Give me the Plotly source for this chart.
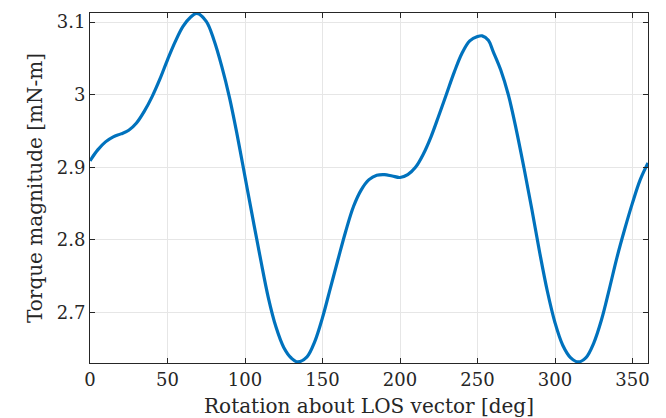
import plotly.graph_objects as go

# Rotation angle about the line-of-sight vector [deg]
rotation_deg = [0, 5, 10, 15, 20, 25, 30, 35, 40, 45, 50, 55, 60, 65, 69, 75,
                80, 85, 90, 95, 100, 105, 110, 115, 120, 125, 130, 134, 140,
                145, 150, 155, 160, 165, 170, 175, 180, 185, 190, 195, 200,
                205, 210, 215, 220, 225, 230, 235, 240, 245, 250, 253, 257,
                260, 265, 270, 275, 280, 285, 290, 295, 300, 305, 310, 315,
                320, 325, 330, 335, 340, 345, 350, 355, 360]

# Torque magnitude [mN-m]
torque_mNm = [2.909, 2.924, 2.935, 2.942, 2.946, 2.951, 2.961, 2.977, 2.997,
              3.021, 3.048, 3.073, 3.094, 3.107, 3.112, 3.101, 3.075, 3.039,
              2.996, 2.944, 2.887, 2.830, 2.774, 2.721, 2.680, 2.652, 2.637,
              2.632, 2.639, 2.660, 2.693, 2.733, 2.773, 2.812, 2.846, 2.869,
              2.883, 2.889, 2.890, 2.888, 2.886, 2.890, 2.900, 2.918, 2.942,
              2.971, 3.001, 3.031, 3.057, 3.074, 3.080, 3.081, 3.075, 3.060,
              3.034, 2.999, 2.952, 2.899, 2.843, 2.784, 2.730, 2.686, 2.655,
              2.638, 2.632, 2.638, 2.658, 2.690, 2.732, 2.776, 2.815, 2.851,
              2.883, 2.906]

x_ticks = [0, 50, 100, 150, 200, 250, 300, 350]
y_ticks = [2.7, 2.8, 2.9, 3.0, 3.1]
y_tick_text = ["2.7", "2.8", "2.9", "3", "3.1"]

font_family = "DejaVu Serif, Liberation Serif, serif"
axis_color = "#262626"
grid_color = "#e6e6e6"

fig = go.Figure(
    go.Scatter(
        x=rotation_deg,
        y=torque_mNm,
        mode="lines",
        line=dict(color="#0072BD", width=3.2, shape="spline", smoothing=1.0),
        showlegend=False,
    )
)

axis_common = dict(
    showline=True,
    linecolor=axis_color,
    linewidth=1,
    mirror="ticks",
    ticks="inside",
    ticklen=5,
    tickwidth=1,
    tickcolor=axis_color,
    showgrid=True,
    gridcolor=grid_color,
    gridwidth=1,
    zeroline=False,
    automargin=False,
    tickfont=dict(family=font_family, size=18, color=axis_color),
)

fig.update_xaxes(
    range=[0, 360],
    tickvals=x_ticks,
    title=dict(text="Rotation about LOS vector [deg]",
               font=dict(family=font_family, size=20, color=axis_color),
               standoff=10),
    **axis_common,
)
fig.update_yaxes(
    range=[min(torque_mNm) - 0.0015, max(torque_mNm) + 0.0005],
    tickvals=y_ticks,
    ticktext=y_tick_text,
    title=dict(text="Torque magnitude [mN-m]",
               font=dict(family=font_family, size=20, color=axis_color),
               standoff=8),
    **axis_common,
)

fig.update_layout(
    width=666,
    height=418,
    margin=dict(l=90, r=18, t=13, b=55),
    paper_bgcolor="white",
    plot_bgcolor="white",
)

fig.write_html("out.html")
